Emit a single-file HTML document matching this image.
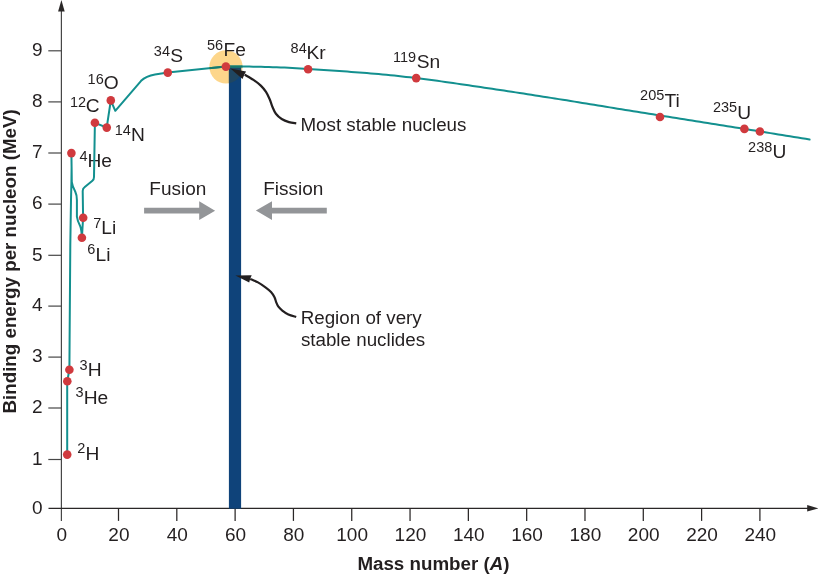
<!DOCTYPE html><html><head><meta charset="utf-8"><style>html,body{margin:0;padding:0;background:#fff;overflow:hidden;}svg{display:block;will-change:transform;}text{font-family:"Liberation Sans",sans-serif;fill:#231f20;}</style></head><body>
<svg width="818" height="576" viewBox="0 0 818 576">
<defs><clipPath id="cc"><circle cx="226.0" cy="66.9" r="16.6"/></clipPath></defs>
<g stroke="#474747" stroke-width="1.2" fill="none">
<line x1="61.4" y1="10" x2="61.4" y2="521"/>
<line x1="48.3" y1="50.8" x2="61.4" y2="50.8"/>
<line x1="48.3" y1="101.9" x2="61.4" y2="101.9"/>
<line x1="48.3" y1="153" x2="61.4" y2="153"/>
<line x1="48.3" y1="204.1" x2="61.4" y2="204.1"/>
<line x1="48.3" y1="255.3" x2="61.4" y2="255.3"/>
<line x1="48.3" y1="306.1" x2="61.4" y2="306.1"/>
<line x1="48.3" y1="357.1" x2="61.4" y2="357.1"/>
<line x1="48.3" y1="408" x2="61.4" y2="408"/>
<line x1="48.3" y1="459.5" x2="61.4" y2="459.5"/>
</g>
<g stroke="#2a2727" stroke-width="1.25" fill="none">
<line x1="48.5" y1="508.3" x2="808" y2="508.3"/>
<line x1="118.50" y1="508.3" x2="118.50" y2="520.9"/>
<line x1="176.81" y1="508.3" x2="176.81" y2="520.9"/>
<line x1="235.12" y1="508.3" x2="235.12" y2="520.9"/>
<line x1="293.43" y1="508.3" x2="293.43" y2="520.9"/>
<line x1="351.74" y1="508.3" x2="351.74" y2="520.9"/>
<line x1="410.05" y1="508.3" x2="410.05" y2="520.9"/>
<line x1="468.36" y1="508.3" x2="468.36" y2="520.9"/>
<line x1="526.67" y1="508.3" x2="526.67" y2="520.9"/>
<line x1="584.98" y1="508.3" x2="584.98" y2="520.9"/>
<line x1="643.29" y1="508.3" x2="643.29" y2="520.9"/>
<line x1="701.60" y1="508.3" x2="701.60" y2="520.9"/>
<line x1="759.91" y1="508.3" x2="759.91" y2="520.9"/>
</g>
<path d="M61.4,0 L64.7,11.4 L58.1,11.4 Z" fill="#2a2727"/>
<path d="M818.5,508.3 L807.2,505.0 L807.2,511.6 Z" fill="#2a2727"/>
<text x="42.6" y="56.00" font-size="19" text-anchor="end">9</text>
<text x="42.6" y="107.10" font-size="19" text-anchor="end">8</text>
<text x="42.6" y="158.20" font-size="19" text-anchor="end">7</text>
<text x="42.6" y="209.30" font-size="19" text-anchor="end">6</text>
<text x="42.6" y="260.50" font-size="19" text-anchor="end">5</text>
<text x="42.6" y="311.30" font-size="19" text-anchor="end">4</text>
<text x="42.6" y="362.30" font-size="19" text-anchor="end">3</text>
<text x="42.6" y="413.20" font-size="19" text-anchor="end">2</text>
<text x="42.6" y="464.70" font-size="19" text-anchor="end">1</text>
<text x="42.6" y="513.50" font-size="19" text-anchor="end">0</text>
<text x="61.80" y="540.6" font-size="19" text-anchor="middle">0</text>
<text x="118.90" y="540.6" font-size="19" text-anchor="middle">20</text>
<text x="177.21" y="540.6" font-size="19" text-anchor="middle">40</text>
<text x="235.52" y="540.6" font-size="19" text-anchor="middle">60</text>
<text x="293.83" y="540.6" font-size="19" text-anchor="middle">80</text>
<text x="352.14" y="540.6" font-size="19" text-anchor="middle">100</text>
<text x="410.45" y="540.6" font-size="19" text-anchor="middle">120</text>
<text x="468.76" y="540.6" font-size="19" text-anchor="middle">140</text>
<text x="527.07" y="540.6" font-size="19" text-anchor="middle">160</text>
<text x="585.38" y="540.6" font-size="19" text-anchor="middle">180</text>
<text x="643.69" y="540.6" font-size="19" text-anchor="middle">200</text>
<text x="702.00" y="540.6" font-size="19" text-anchor="middle">220</text>
<text x="760.31" y="540.6" font-size="19" text-anchor="middle">240</text>
<text x="357.4" y="569.7" font-size="18.75" font-weight="bold">Mass number (<tspan font-style="italic">A</tspan>)</text>
<text transform="translate(16.1,413.5) rotate(-90)" font-size="18.75" font-weight="bold">Binding energy per nucleon (MeV)</text>
<circle cx="226.0" cy="66.9" r="16.6" fill="#fdd68b"/>
<rect x="228.9" y="66.3" width="12.2" height="442.4" fill="#0f437a"/>
<rect x="228.9" y="66.3" width="12.2" height="20" fill="#1f4662" clip-path="url(#cc)"/>
<text x="77.37" y="453.22" font-size="14.5">2</text>
<text x="85.62" y="459.9" font-size="19.2">H</text>
<text x="79.45" y="369.52" font-size="14.5">3</text>
<text x="87.72" y="375.9" font-size="19.2">H</text>
<text x="75.40" y="397.42" font-size="14.5">3</text>
<text x="83.72" y="403.7" font-size="19.2">He</text>
<text x="79.57" y="160.88" font-size="14.5">4</text>
<text x="87.52" y="166.8" font-size="19.2">He</text>
<text x="87.26" y="254.22" font-size="14.5">6</text>
<text x="95.58" y="260.8" font-size="19.2">Li</text>
<text x="93.16" y="227.58" font-size="14.5">7</text>
<text x="101.27" y="233.95" font-size="19.2">Li</text>
<text x="69.90" y="106.72" font-size="14.5">12</text>
<text x="85.78" y="112.4" font-size="19.2">C</text>
<text x="114.80" y="134.58" font-size="14.5">14</text>
<text x="131.12" y="140.8" font-size="19.2">N</text>
<text x="87.60" y="83.62" font-size="14.5">16</text>
<text x="103.79" y="89.3" font-size="19.2">O</text>
<text x="153.85" y="55.87" font-size="14.5">34</text>
<text x="170.13" y="62.05" font-size="19.2">S</text>
<text x="206.92" y="50.42" font-size="14.5">56</text>
<text x="223.43" y="55.6" font-size="19.2">Fe</text>
<text x="290.57" y="52.62" font-size="14.5">84</text>
<text x="306.53" y="58.8" font-size="19.2">Kr</text>
<text x="393.00" y="61.92" font-size="14.5">119</text>
<text x="416.63" y="67.8" font-size="19.2">Sn</text>
<text x="640.07" y="100.22" font-size="14.5">205</text>
<text x="664.62" y="106.5" font-size="19.2">Ti</text>
<text x="712.92" y="112.42" font-size="14.5">235</text>
<text x="737.32" y="118.5" font-size="19.2">U</text>
<text x="748.07" y="152.32" font-size="14.5">238</text>
<text x="772.57" y="158.2" font-size="19.2">U</text>
<path d="M67.2,454.6 L67.2,381.3 L69.4,369.8 L69.6,340 L70.3,245 L71.0,200 L71.4,183 L71.6,167 L71.4,153.3 L71.6,167 L71.8,182 Q72.3,186 75.3,191.7 Q76.9,195 76.9,200 L76.9,216.7 Q77.5,221 79.9,225.4 Q81.5,229 81.9,238 L83.1,217.7 L82.7,191 Q82.8,188.5 84.5,187.3 L92.4,180.8 Q94,179.5 94,177 L94.9,122.8 L106.7,127.6 L110.8,100.5 L115.3,110.8 L141.1,80.8 Q146,75.8 155,74.4 L167.8,72.6 L225.8,66.5 L229.7,66.50 L233.6,66.51 L237.6,66.53 L241.5,66.55 L245.4,66.57 L249.3,66.60 L253.2,66.63 L257.1,66.70 L261.1,66.78 L265.0,66.89 L268.9,67.01 L272.8,67.14 L276.7,67.28 L280.7,67.42 L284.6,67.59 L288.5,67.79 L292.4,68.01 L296.3,68.24 L300.2,68.49 L304.2,68.74 L308.1,68.99 L312.0,69.24 L315.9,69.49 L319.8,69.74 L323.8,69.99 L327.7,70.25 L331.6,70.51 L335.5,70.77 L339.4,71.04 L343.3,71.31 L347.3,71.59 L351.2,71.88 L355.1,72.17 L359.0,72.47 L362.9,72.77 L366.9,73.09 L370.8,73.41 L374.7,73.74 L378.6,74.08 L382.5,74.43 L386.4,74.80 L390.4,75.19 L394.3,75.60 L398.2,76.02 L402.1,76.45 L406.0,76.90 L410.0,77.36 L413.9,77.82 L417.8,78.29 L421.7,78.78 L425.6,79.27 L429.5,79.79 L433.5,80.31 L437.4,80.84 L441.3,81.38 L445.2,81.93 L449.1,82.49 L453.1,83.05 L457.0,83.62 L460.9,84.20 L464.8,84.77 L468.7,85.35 L472.6,85.92 L476.6,86.50 L480.5,87.07 L484.4,87.64 L488.3,88.22 L492.2,88.81 L496.2,89.39 L500.1,89.98 L504.0,90.58 L507.9,91.17 L511.8,91.77 L515.7,92.37 L519.7,92.98 L523.6,93.58 L527.5,94.19 L531.4,94.80 L535.3,95.42 L539.2,96.03 L543.2,96.65 L547.1,97.26 L551.0,97.88 L554.9,98.50 L558.8,99.12 L562.8,99.74 L566.7,100.36 L570.6,100.99 L574.5,101.62 L578.4,102.25 L582.3,102.89 L586.3,103.53 L590.2,104.17 L594.1,104.81 L598.0,105.45 L601.9,106.09 L605.9,106.74 L609.8,107.38 L613.7,108.02 L617.6,108.66 L621.5,109.30 L625.4,109.94 L629.4,110.58 L633.3,111.22 L637.2,111.85 L641.1,112.48 L645.0,113.11 L649.0,113.73 L652.9,114.36 L656.8,114.98 L660.7,115.60 L664.6,116.22 L668.5,116.84 L672.5,117.46 L676.4,118.08 L680.3,118.70 L684.2,119.32 L688.1,119.94 L692.1,120.56 L696.0,121.18 L699.9,121.80 L703.8,122.42 L707.7,123.04 L711.6,123.67 L715.6,124.29 L719.5,124.92 L723.4,125.55 L727.3,126.17 L731.2,126.80 L735.2,127.43 L739.1,128.06 L743.0,128.69 L746.9,129.32 L750.8,129.96 L754.7,130.59 L758.7,131.22 L762.6,131.86 L766.5,132.49 L770.4,133.12 L774.3,133.76 L778.3,134.39 L782.2,135.03 L786.1,135.67 L790.0,136.30 L793.9,136.94 L797.8,137.58 L801.8,138.22 L805.7,138.86 L809.6,139.50" fill="none" stroke="#13908f" stroke-width="2" stroke-linejoin="round" stroke-linecap="round"/>
<path d="M167.8,72.6 L225.8,66.5 L250,66.6" fill="none" stroke="#167a6c" stroke-width="2" clip-path="url(#cc)"/>
<circle cx="67.2" cy="454.6" r="4.3" fill="#d03a3e"/>
<circle cx="67.3" cy="381.25" r="4.3" fill="#d03a3e"/>
<circle cx="69.4" cy="369.8" r="4.3" fill="#d03a3e"/>
<circle cx="71.4" cy="153.1" r="4.3" fill="#d03a3e"/>
<circle cx="81.9" cy="237.8" r="4.3" fill="#d03a3e"/>
<circle cx="83.2" cy="217.7" r="4.3" fill="#d03a3e"/>
<circle cx="94.9" cy="122.8" r="4.3" fill="#d03a3e"/>
<circle cx="106.75" cy="127.6" r="4.3" fill="#d03a3e"/>
<circle cx="110.8" cy="100.4" r="4.3" fill="#d03a3e"/>
<circle cx="167.8" cy="72.6" r="4.3" fill="#d03a3e"/>
<circle cx="225.9" cy="66.6" r="4.3" fill="#d03a3e"/>
<circle cx="308.1" cy="69.25" r="4.3" fill="#d03a3e"/>
<circle cx="416.2" cy="78.1" r="4.3" fill="#d03a3e"/>
<circle cx="660.0" cy="117.0" r="4.3" fill="#d03a3e"/>
<circle cx="744.4" cy="128.9" r="4.3" fill="#d03a3e"/>
<circle cx="759.9" cy="131.5" r="4.3" fill="#d03a3e"/>
<text x="149.29" y="195" font-size="19">Fusion</text>
<text x="263.14" y="195" font-size="19">Fission</text>
<path d="M144.1,207.8 H199.2 V201.2 L215.1,210.7 L199.2,220.1 V213.6 H144.1 Z" fill="#939598"/>
<path d="M326.8,207.8 H272 V201.2 L255.9,210.6 L272,219.9 V213.6 H326.8 Z" fill="#939598"/>
<path d="M296.25,123.30 C295.04,123.10 291.43,122.82 289.00,122.10 C286.57,121.38 283.88,120.39 281.70,119.00 C279.52,117.61 277.47,115.83 275.90,113.75 C274.33,111.67 273.33,108.92 272.30,106.50 C271.27,104.08 270.75,101.63 269.70,99.20 C268.65,96.77 267.48,94.17 266.00,91.90 C264.52,89.63 262.88,87.60 260.80,85.60 C258.72,83.60 256.18,81.72 253.50,79.90 C250.82,78.08 246.17,75.57 244.70,74.70" fill="none" stroke="#231f20" stroke-width="2.2" stroke-linecap="butt"/>
<path d="M230.4,68.5 L246.05,71.6 L244.4,74.6 L242.5,79.0 Z" fill="#231f20"/>
<text x="300.46" y="130.9" font-size="18.8">Most stable nucleus</text>
<path d="M296.20,317.00 C294.90,316.58 290.72,315.57 288.40,314.50 C286.08,313.43 283.97,311.90 282.30,310.60 C280.63,309.30 279.41,308.07 278.40,306.70 C277.39,305.33 276.90,303.98 276.25,302.40 C275.60,300.82 275.38,298.93 274.50,297.20 C273.62,295.47 272.45,293.60 271.00,292.00 C269.55,290.40 267.97,289.20 265.80,287.60 C263.63,286.00 260.60,283.85 258.00,282.40 C255.40,280.95 251.50,279.48 250.20,278.90" fill="none" stroke="#231f20" stroke-width="2.2" stroke-linecap="butt"/>
<path d="M235.4,275.55 L251.7,275.3 L250.2,278.7 L249.2,282.6 Z" fill="#231f20"/>
<text x="300.66" y="324" font-size="18.8">Region of very</text>
<text x="300.88" y="346.3" font-size="18.8">stable nuclides</text>
</svg></body></html>
